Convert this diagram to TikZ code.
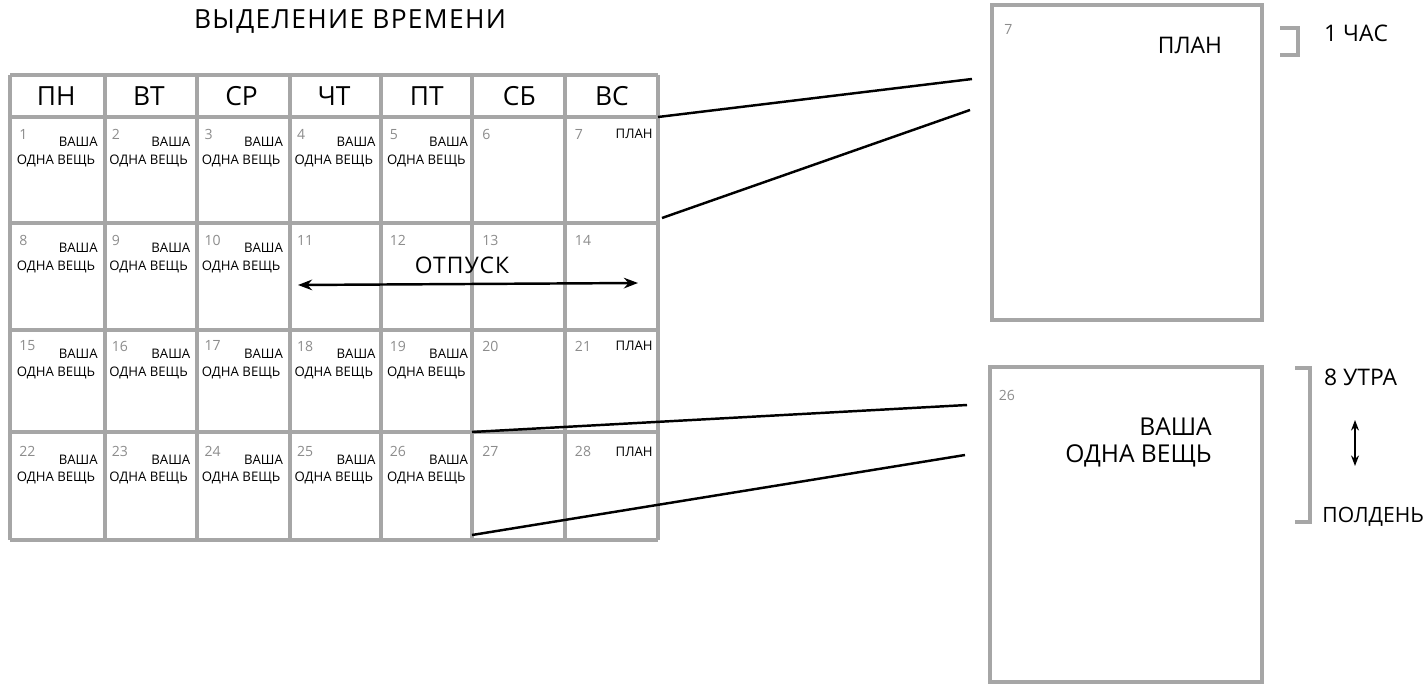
\documentclass[tikz,border=0pt]{standalone}
\usepackage{fontspec}
\setmainfont{Open Sans}
\usetikzlibrary{arrows.meta}
\tikzset{
  grid/.style={draw=black!35, line width=2pt},
  wire/.style={draw=black, line width=1.4pt},
  daynum/.style={text=black!45, font=\fontsize{8}{8}\selectfont, anchor=north west, inner sep=0pt},
  cellword/.style={font=\fontsize{7.5}{8}\selectfont, inner sep=0pt},
  head/.style={font=\fontsize{15}{15}\selectfont\addfontfeature{LetterSpace=5}, inner sep=0pt}
}
\begin{document}
\begin{tikzpicture}[x=0.02cm,y=-0.02cm]
    \useasboundingbox (0,0) rectangle (1426,686);
    % title
    \node[head] (title) at (350,22) {ВЫДЕЛЕНИЕ ВРЕМЕНИ};
    % calendar grid
    \foreach \x in {10,105,197,290,381,472,565,658}
      \draw[grid] (\x,75) -- (\x,540);
    \foreach \y in {75,117,223,330,432,540}
      \draw[grid] (10,\y) -- (658,\y);
    % day names
    \foreach \d [count=\i] in {ПН,ВТ,СР,ЧТ,ПТ,СБ,ВС} {
      \pgfmathsetmacro\cx{10+92.6*(\i-0.5)}
      \node[font=\fontsize{15}{15}\selectfont] (day\i) at (\cx,96) {\d};
    }
    % cells
    \foreach \r in {1,...,4} {
      \foreach \c in {1,...,7} {
        \pgfmathtruncatemacro\n{(\r-1)*7+\c}
        \pgfmathsetmacro\xa{10+92.6*(\c-1)}
        \pgfmathsetmacro\ya{117+105.8*(\r-1)}
        \node[daynum] (n\n) at (\xa+9,\ya+12) {\n};
      }
    }
    \foreach \r/\cols in {1/{1,2,3,4,5},2/{1,2,3},3/{1,2,3,4,5},4/{1,2,3,4,5}} {
      \foreach \c in \cols {
        \pgfmathsetmacro\xa{10+92.6*(\c-1)}
        \pgfmathsetmacro\ya{117+105.8*(\r-1)}
        \node[cellword, anchor=east] (w\r\c) at (\xa+88,\ya+25) {ВАША};
        \node[cellword] (o\r\c) at (\xa+46,\ya+44) {ОДНА ВЕЩЬ};
      }
    }
    \foreach \r in {1,3,4} {
      \pgfmathsetmacro\ya{117+105.8*(\r-1)}
      \node[cellword, anchor=east] (plan\r) at (653,\ya+17) {ПЛАН};
    }
    % vacation
    \node[font=\fontsize{13}{13}\selectfont\addfontfeature{LetterSpace=5}] (vac) at (462,265) {ОТПУСК};
    \coordinate (va) at (298,285);
    \coordinate (vb) at (638,283);
    \draw[wire, {Stealth[length=8pt]}-{Stealth[length=8pt]}] (va) -- (vb);
    % zoom boxes
    \node[grid, minimum width=270*0.02cm, minimum height=315*0.02cm, anchor=north west] (box1) at (990,3) {};
    \node[grid, minimum width=272*0.02cm, minimum height=315*0.02cm, anchor=north west] (box2) at (988,365) {};
    \node[daynum] (b1n) at (box1.north west) [xshift=8pt,yshift=-12pt] {7};
    \node[font=\fontsize{13}{13}\selectfont] (b1t) at (1190,45) {ПЛАН};
    \node[daynum] (b2n) at (box2.north west) [xshift=6pt,yshift=-14pt] {26};
    \node[font=\fontsize{14}{15}\selectfont, align=right, anchor=north east] (b2t) at (1218,412) {ВАША\\ОДНА ВЕЩЬ};
    % connectors
    \coordinate (c1a) at (658,117); \coordinate (c1b) at (972,79);
    \coordinate (c2a) at (662,218); \coordinate (c2b) at (970,110);
    \coordinate (c3a) at (472,432); \coordinate (c3b) at (967,405);
    \coordinate (c4a) at (472,535); \coordinate (c4b) at (965,455);
    \draw[wire] (c1a) -- (c1b);
    \draw[wire] (c2a) -- (c2b);
    \draw[wire] (c3a) -- (c3b);
    \draw[wire] (c4a) -- (c4b);
    % time scale
    \draw[grid] (1280,28) -- (1298,28) -- (1298,55) -- (1280,55);
    \node[font=\fontsize{13}{13}\selectfont, anchor=west] (hour) at (1318,33) {1 ЧАС};
    \draw[grid] (1295,368) -- (1310,368) -- (1310,522) -- (1295,522);
    \node[font=\fontsize{13}{13}\selectfont, anchor=west] (morn) at (1318,377) {8 УТРА};
    \node[font=\fontsize{12}{12}\selectfont, anchor=east, inner sep=1pt] (noon) at (1426,517) {ПОЛДЕНЬ};
    \coordinate (ta) at (1355,420); \coordinate (tb) at (1355,466);
    \draw[wire, {Stealth[length=6pt]}-{Stealth[length=6pt]}] (ta) -- (tb);
\end{tikzpicture}
\end{document}
